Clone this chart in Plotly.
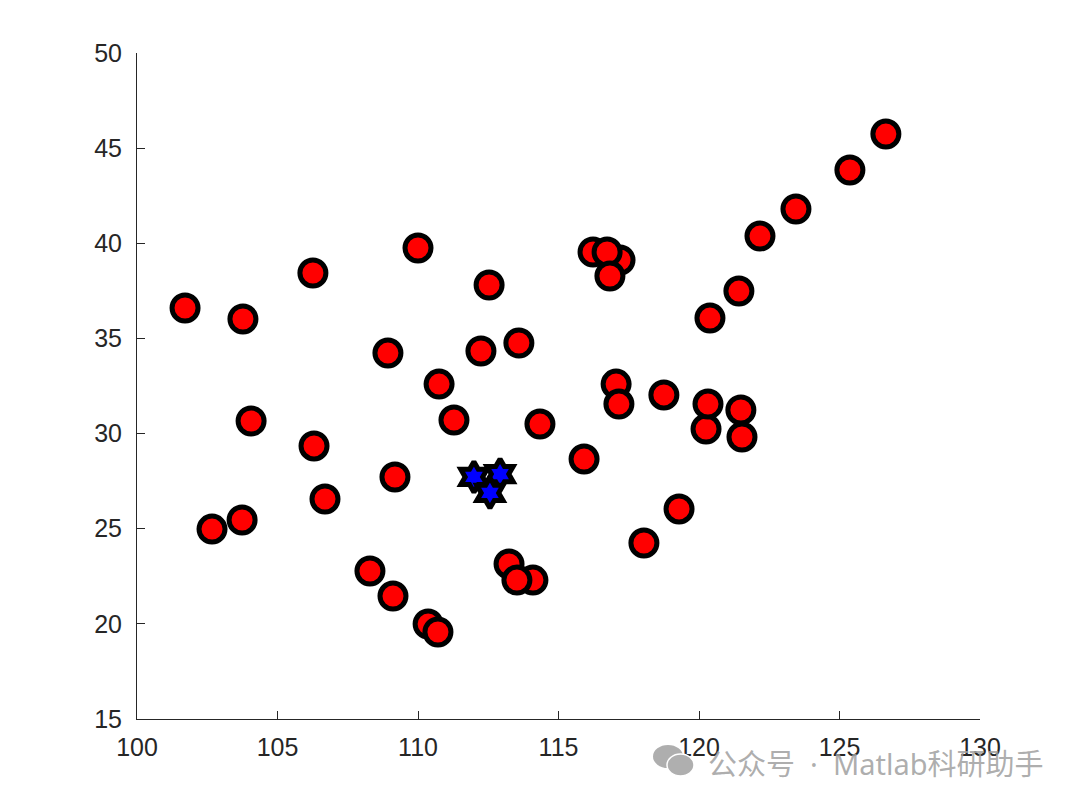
import plotly.graph_objects as go

# Red city points
city_x = [101.71, 103.77, 106.26, 110.0, 112.53, 108.93, 112.24, 113.59, 110.75, 111.28,
          104.06, 106.30, 109.18, 106.69, 102.67, 103.74, 108.29, 109.11, 110.36, 110.71,
          113.24, 114.09, 113.52, 114.34, 115.91, 116.23, 117.19, 116.73, 116.83, 117.05,
          117.15, 118.75, 119.29, 118.04, 120.25, 120.32, 120.39, 121.49, 121.53, 121.42,
          122.17, 123.45, 125.37, 126.65]
city_y = [36.60, 36.02, 38.44, 39.75, 37.81, 34.23, 34.34, 34.76, 32.60, 30.71,
          30.66, 29.35, 27.72, 26.56, 24.98, 25.46, 22.78, 21.46, 19.99, 19.57,
          23.15, 22.30, 22.30, 30.50, 28.66, 39.54, 39.12, 39.54, 38.28, 32.60,
          31.55, 32.03, 26.04, 24.25, 30.24, 31.55, 36.07, 31.24, 29.82, 37.49,
          40.38, 41.80, 43.85, 45.74]

# Blue star centres
center_x = [111.99, 112.92, 112.56]
center_y = [27.72, 27.87, 26.88]

x_ticks = [100, 105, 110, 115, 120, 125, 130]
y_ticks = [15, 20, 25, 30, 35, 40, 45, 50]

# plot area in page pixels (page body has an 8px margin)
PL, PR, PT, PB = 137, 980, 53, 719
W, H = PR - PL, PB - PT


def px(x):
    return (x - PL) / W


def py(y):
    return (PB - y) / H


fig = go.Figure()
fig.add_trace(go.Scatter(
    x=city_x, y=city_y, mode="markers",
    marker=dict(symbol="circle", size=26, color="#ff0000",
                line=dict(color="black", width=5)),
    showlegend=False, cliponaxis=False))
fig.add_trace(go.Scatter(
    x=center_x, y=center_y, mode="markers",
    marker=dict(symbol="hexagram", size=23, color="#0000ff",
                line=dict(color="black", width=5)),
    showlegend=False, cliponaxis=False))

axis_common = dict(showgrid=False, zeroline=False, showline=True, linecolor="#262626",
                   linewidth=1, ticks="inside", ticklen=8, tickcolor="#262626",
                   tickfont=dict(family="Liberation Sans, Arial, sans-serif", size=25,
                                 color="#262626"), mirror=False)

wm_col = "rgba(160,160,160,0.85)"
shapes = [
    dict(type="circle", xref="paper", yref="paper", layer="above",
         x0=px(653), x1=px(683), y0=py(768), y1=py(745),
         fillcolor=wm_col, line=dict(width=0)),
    dict(type="circle", xref="paper", yref="paper", layer="above",
         x0=px(667), x1=px(694), y0=py(776), y1=py(754),
         fillcolor="rgb(175,175,175)", line=dict(color="white", width=1.5)),
]

fig.update_layout(
    width=1080, height=804,
    margin=dict(l=PL - 8, r=1080 - (PL - 8) - W, t=PT - 8, b=804 - (PT - 8) - H),
    paper_bgcolor="white", plot_bgcolor="white",
    xaxis=dict(range=[100, 130], tickvals=x_ticks, ticklabelstandoff=6, **axis_common),
    yaxis=dict(range=[15, 50], tickvals=y_ticks, ticklabelstandoff=9, **axis_common),
    shapes=shapes,
    annotations=[dict(
        text="公众号\u00a0\u00a0·\u00a0\u00a0Matlab科研助手", xref="paper", yref="paper",
        x=px(1046), y=py(763),
        xanchor="right", yanchor="middle", showarrow=False,
        font=dict(family="Noto Sans, Noto Sans CJK SC", size=29, color=wm_col))]
)

fig.write_html("out.html")
